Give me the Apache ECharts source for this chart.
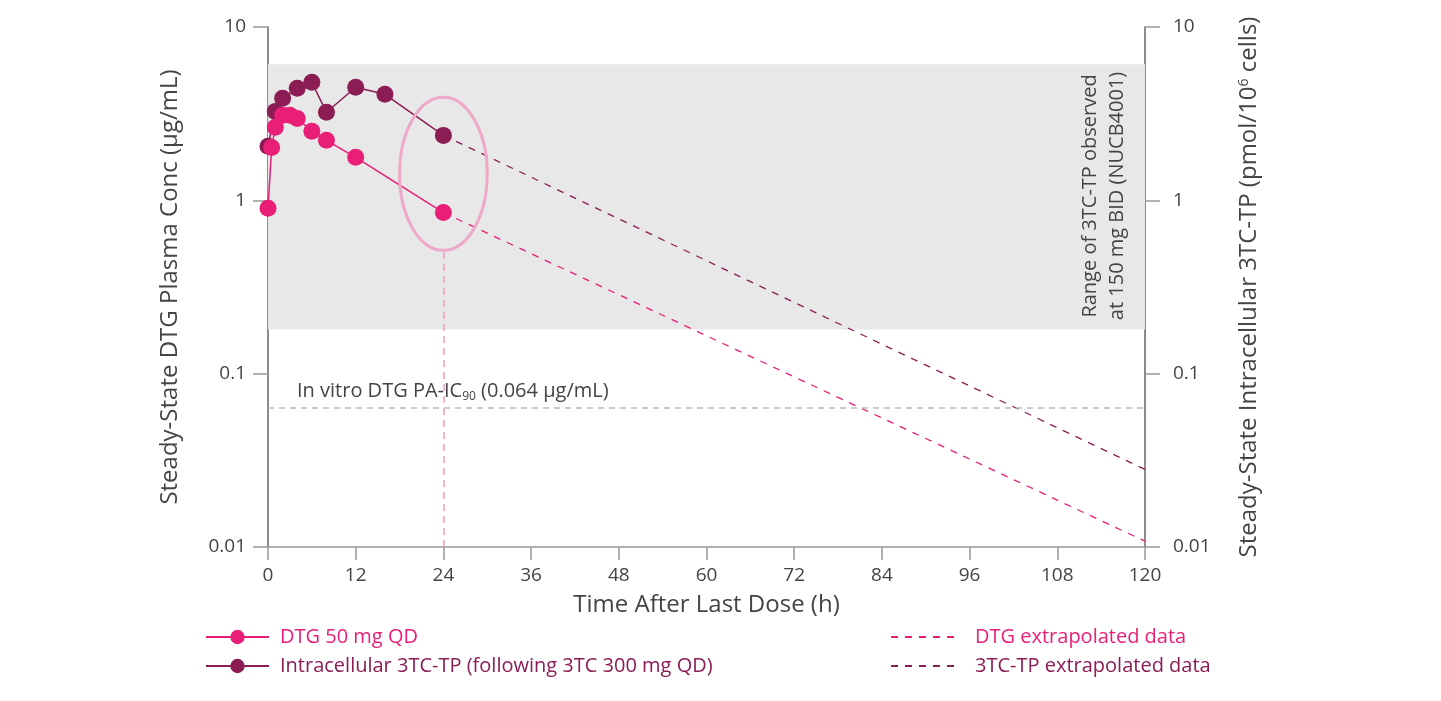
<!DOCTYPE html>
<html>
<head>
<meta charset="utf-8">
<script src="https://cdn.jsdelivr.net/npm/echarts@6/dist/echarts.min.js"></script>
<style>
  html, body { margin: 0; padding: 0; background: #fff; }
  #main { width: 1441px; height: 701px; }
</style>
</head>
<body>
<div id="main"></div>
<script>
// observed time points (h)
const dtgTimes = [0, 0.5, 1, 2, 3, 4, 6, 8, 12, 24]
const dtgConc = [0.9, 2.02, 2.64, 3.1, 3.1, 2.97, 2.5, 2.22, 1.77, 0.85]

const tpTimes = [0, 1, 2, 4, 6, 8, 12, 16, 24]
const tpConc = [2.05, 3.26, 3.88, 4.43, 4.8, 3.22, 4.49, 4.09, 2.37]

// extrapolated lines
const extraTimes = [24, 120]
const dtgExtra = [0.85, 0.0108]
const tpExtra = [2.37, 0.028]

const bandRange = [0.18, 6.1]
const ic90 = 0.064
const xTicks = [0, 120, 12]
const yTicks = [0.01, 10]

const PINK = '#E91E76'
const PURPLE = '#8B1C54'
const FONT = 'Open Sans'

const pairs = (xs, ys) => xs.map((x, i) => [x, ys[i]])

const chart = echarts.init(document.getElementById('main'))

const option = {
  animation: false,
  textStyle: { fontFamily: FONT },
  grid: { left: 268, right: 296, top: 27, bottom: 154 },
  legend: [
    {
      left: 200, top: 622, orient: 'vertical', itemWidth: 63, itemHeight: 18, itemGap: 9,
      textStyle: { fontSize: 20, fontFamily: FONT, padding: [0, 0, 0, 6] },
      data: [
        { name: 'DTG 50 mg QD', textStyle: { color: PINK } },
        { name: 'Intracellular 3TC-TP (following 3TC 300 mg QD)', textStyle: { color: PURPLE } }
      ]
    },
    {
      left: 885, top: 622, orient: 'vertical', itemWidth: 70, itemHeight: 18, itemGap: 9,
      textStyle: { fontSize: 20, fontFamily: FONT, padding: [0, 0, 0, 9] },
      data: [
        { name: 'DTG extrapolated data', textStyle: { color: PINK }, itemStyle: { opacity: 0 } },
        { name: '3TC-TP extrapolated data', textStyle: { color: PURPLE }, itemStyle: { opacity: 0 } }
      ]
    }
  ],
  xAxis: {
    type: 'value', min: xTicks[0], max: xTicks[1], interval: xTicks[2],
    name: 'Time After Last Dose (h)', nameLocation: 'middle', nameGap: 46,
    nameTextStyle: { fontSize: 24, color: '#444' },
    axisLine: { lineStyle: { color: '#999', width: 1.5 } },
    axisTick: { length: 13, lineStyle: { color: '#999', width: 1.5 } },
    axisLabel: { fontSize: 19, color: '#444', margin: 19 },
    splitLine: { show: false }
  },
  yAxis: [
    {
      type: 'log', logBase: 10, min: yTicks[0], max: yTicks[1], position: 'left',
      name: 'Steady-State DTG Plasma Conc (μg/mL)', nameLocation: 'middle', nameGap: 86,
      nameTextStyle: { fontSize: 24, color: '#444' },
      axisLine: { show: true, lineStyle: { color: '#666', width: 1.5 } },
      axisTick: { show: true, length: 15, lineStyle: { color: '#999', width: 1.5 } },
      axisLabel: { fontSize: 19, color: '#444', margin: 22 },
      minorTick: { show: false },
      splitLine: { show: false }
    },
    {
      type: 'log', logBase: 10, min: yTicks[0], max: yTicks[1], position: 'right',
      name: '{a|Steady-State Intracellular 3TC-TP (pmol/10}{s|6}{a| cells)}',
      nameLocation: 'middle', nameGap: 92,
      nameTextStyle: {
        color: '#444',
        rich: {
          a: { fontSize: 24, color: '#444', fontFamily: FONT },
          s: { fontSize: 14, color: '#444', fontFamily: FONT, padding: [0, 0, 11, 0] }
        }
      },
      axisLine: { show: true, lineStyle: { color: '#666', width: 1.5 } },
      axisTick: { show: true, length: 15, lineStyle: { color: '#999', width: 1.5 } },
      axisLabel: { fontSize: 19, color: '#444', margin: 28 },
      splitLine: { show: false }
    }
  ],
  series: [
    {
      name: 'DTG extrapolated data', type: 'line', data: pairs(extraTimes, dtgExtra),
      symbol: 'none', z: 3,
      itemStyle: { color: PINK },
      lineStyle: { color: PINK, width: 1.3, type: [7, 7] },
      markArea: {
        silent: true,
        itemStyle: { color: '#E8E8E8' },
        data: [[{ xAxis: xTicks[0], yAxis: bandRange[0] }, { xAxis: xTicks[1], yAxis: bandRange[1] }]]
      },
      markLine: {
        silent: true, symbol: 'none',
        data: [
          [
            {
              coord: [xTicks[0], ic90],
              lineStyle: { color: '#bbb', type: [6, 5], width: 1.5 },
              label: {
                show: true, position: 'insideStartTop', distance: [29, 5],
                formatter: '{a|In vitro DTG PA-IC}{s|90}{a| (0.064 μg/mL)}',
                rich: {
                  a: { fontSize: 20, color: '#444', fontFamily: FONT },
                  s: { fontSize: 12, color: '#444', fontFamily: FONT, padding: [9, 0, 0, 0] }
                }
              }
            },
            { coord: [xTicks[1], ic90] }
          ],
          [
            { coord: [24, yTicks[0]], lineStyle: { color: '#F49AC2', type: [7, 5], width: 1.5, opacity: 1 }, label: { show: false } },
            { coord: [24, 0.52] }
          ]
        ]
      }
    },
    {
      name: '3TC-TP extrapolated data', type: 'line', data: pairs(extraTimes, tpExtra),
      symbol: 'none', z: 3,
      itemStyle: { color: PURPLE },
      lineStyle: { color: PURPLE, width: 1.3, type: [7, 7] }
    },
    {
      name: 'Intracellular 3TC-TP (following 3TC 300 mg QD)', type: 'line',
      data: pairs(tpTimes, tpConc), symbol: 'circle', symbolSize: 17, z: 4,
      itemStyle: { color: PURPLE },
      lineStyle: { color: PURPLE, width: 1.5 }
    },
    {
      name: 'DTG 50 mg QD', type: 'line',
      data: pairs(dtgTimes, dtgConc), symbol: 'circle', symbolSize: 17, z: 5,
      itemStyle: { color: PINK },
      lineStyle: { color: PINK, width: 1.5 }
    }
  ]
}

chart.setOption(option)

// ellipse around the 24 h points, placed through the chart's own scales
const eTop = chart.convertToPixel({ gridIndex: 0 }, [18, 3.93])
const eBot = chart.convertToPixel({ gridIndex: 0 }, [30, 0.515])
const note = chart.convertToPixel({ gridIndex: 0 }, [114.4, 1.06])

chart.setOption({
  graphic: [
    {
      type: 'ellipse', z: 10, silent: true,
      shape: {
        cx: (eTop[0] + eBot[0]) / 2, cy: (eTop[1] + eBot[1]) / 2,
        rx: (eBot[0] - eTop[0]) / 2, ry: (eBot[1] - eTop[1]) / 2
      },
      style: { fill: null, stroke: '#EFA8C8', lineWidth: 3 }
    },
    {
      type: 'text', z: 10, silent: true,
      x: note[0], y: note[1], rotation: Math.PI / 2,
      style: {
        text: 'Range of 3TC-TP observed\nat 150 mg BID (NUCB4001)',
        font: '20px "Open Sans"', fill: '#444',
        align: 'center', verticalAlign: 'middle', lineHeight: 27
      }
    }
  ]
})
</script>
</body>
</html>
